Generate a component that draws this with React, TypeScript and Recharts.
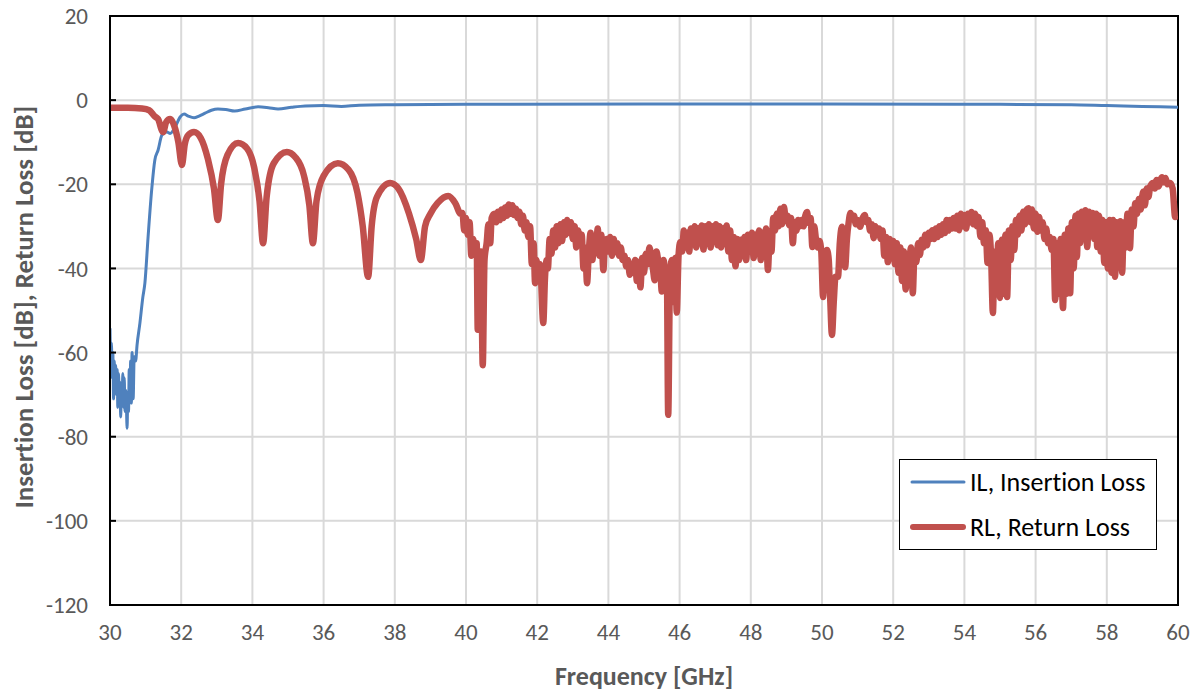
import { CartesianGrid, Line, LineChart, ReferenceArea, XAxis, YAxis } from 'recharts';

// [frequency GHz, dB]
const IL: [number, number][] = [
  [30.0, -54.2], [30.02, -62], [30.04, -57.7], [30.06, -66], [30.08, -60], [30.1, -71],
  [30.12, -62], [30.14, -68], [30.16, -63], [30.18, -70], [30.2, -64], [30.22, -73],
  [30.24, -65], [30.26, -72], [30.28, -67], [30.3, -75.3], [30.32, -68], [30.34, -72],
  [30.36, -65], [30.38, -73], [30.4, -66], [30.42, -74], [30.45, -69], [30.48, -78],
  [30.5, -70], [30.52, -74], [30.54, -64], [30.56, -72], [30.58, -62], [30.6, -72],
  [30.62, -60], [30.65, -71], [30.68, -61], [30.72, -62], [30.76, -58.2], [30.84, -53],
  [30.92, -47], [30.98, -43.5], [31.07, -32.5], [31.17, -21.4], [31.26, -14.2], [31.35, -11.9],
  [31.46, -8.3], [31.6, -7.6], [31.69, -7.9], [31.83, -6.4], [31.97, -4], [32.08, -3.3],
  [32.2, -3.8], [32.36, -4.2], [32.5, -3.8], [32.67, -3.1], [32.85, -2.4], [33.03, -2.1],
  [33.25, -2.2], [33.5, -2.6], [33.8, -2.1], [34.16, -1.6], [34.45, -1.8], [34.72, -2.1],
  [35.1, -1.7], [35.48, -1.4], [36, -1.3], [36.5, -1.5], [37, -1.2], [38, -1.1],
  [40, -1.0], [45, -0.9], [50, -0.9], [55, -1.0], [57, -1.1], [58, -1.3], [59, -1.5], [60, -1.7],
];

const RL: [number, number][] = [
  [30.0, -1.8], [30.5, -1.8], [30.9, -2.0], [31.1, -2.4], [31.25, -3.8], [31.35, -4.5],
  [31.49, -7.6], [31.58, -5.2], [31.69, -4.5], [31.8, -6], [31.92, -10], [32.02, -15.4],
  [32.1, -10.5], [32.2, -8.3], [32.36, -7.6], [32.55, -9], [32.75, -14], [32.92, -21],
  [33.03, -28.5], [33.12, -20], [33.3, -13], [33.6, -10.2], [33.85, -11.5], [34.05, -16],
  [34.2, -24], [34.3, -34], [34.4, -23], [34.6, -15], [34.97, -12.3], [35.2, -13.5],
  [35.45, -18], [35.6, -25], [35.7, -34], [35.8, -24], [36.0, -18], [36.4, -15],
  [36.7, -16.5], [36.95, -22], [37.1, -30], [37.25, -42], [37.35, -30], [37.5, -23],
  [37.87, -19.7], [38.1, -21], [38.4, -27], [38.6, -33], [38.73, -38], [38.85, -30],
  [39.0, -27], [39.2, -24.5], [39.5, -22.8], [39.7, -24.5], [39.85, -27],
  [39.9, -26.8], [39.95, -31], [40.0, -28], [40.05, -32], [40.1, -29], [40.15, -37],
  [40.2, -33], [40.25, -36], [40.3, -34], [40.33, -54.6], [40.38, -40], [40.42, -36],
  [40.47, -63], [40.52, -38], [40.58, -34], [40.63, -29.5], [40.68, -34], [40.72, -28],
  [40.8, -27], [40.85, -29], [40.9, -26.5], [40.95, -28.5], [41.0, -26], [41.05, -28],
  [41.1, -25.5], [41.15, -27.5], [41.2, -24.8], [41.25, -27], [41.3, -25], [41.35, -27.3],
  [41.4, -25.8], [41.45, -28], [41.5, -26.5], [41.55, -29.5], [41.6, -27.5], [41.65, -31],
  [41.7, -29], [41.75, -32.5], [41.8, -30], [41.85, -39], [41.9, -34], [41.94, -43.5],
  [41.98, -38], [42.03, -42], [42.08, -39], [42.17, -53], [42.22, -42], [42.27, -38],
  [42.3, -40], [42.35, -33], [42.4, -36.5], [42.45, -31], [42.5, -35], [42.55, -30],
  [42.6, -34], [42.65, -29.5], [42.7, -33.5], [42.75, -29], [42.8, -32], [42.84, -28.5],
  [42.9, -31.5], [42.95, -29], [43.0, -33], [43.05, -30], [43.1, -35], [43.15, -31],
  [43.2, -34], [43.25, -32], [43.3, -40], [43.35, -35], [43.4, -43.5], [43.45, -36],
  [43.5, -31.5], [43.55, -38], [43.6, -33], [43.65, -36], [43.7, -30.5], [43.75, -37],
  [43.8, -32], [43.86, -40.4], [43.9, -34], [43.95, -33], [44.0, -36], [44.05, -32.5],
  [44.1, -37], [44.15, -33], [44.2, -35.5], [44.25, -34], [44.3, -37], [44.35, -35],
  [44.4, -38], [44.45, -37], [44.5, -39.5], [44.55, -38], [44.6, -41.5], [44.65, -39],
  [44.7, -41], [44.75, -38], [44.8, -43], [44.85, -38.5], [44.9, -44.5], [44.95, -37.5],
  [45.0, -41], [45.05, -36.5], [45.1, -39], [45.15, -35], [45.2, -37], [45.25, -40],
  [45.3, -42.8], [45.35, -36], [45.4, -38], [45.45, -39], [45.5, -45.5], [45.55, -38],
  [45.6, -41], [45.64, -40], [45.68, -74.8], [45.73, -42], [45.78, -38], [45.83, -48],
  [45.88, -37.5], [45.92, -50.5], [45.97, -37], [46.02, -33.7], [46.07, -36], [46.12, -31],
  [46.17, -35], [46.22, -31.5], [46.27, -36], [46.32, -30.5], [46.37, -34], [46.42, -30],
  [46.47, -35], [46.52, -30.5], [46.57, -33], [46.62, -29.8], [46.67, -35.5], [46.72, -30],
  [46.77, -34], [46.82, -29.5], [46.87, -35], [46.92, -30], [46.97, -33], [47.02, -29.5],
  [47.07, -34.5], [47.12, -30], [47.17, -35], [47.22, -30.5], [47.27, -33], [47.32, -29.8],
  [47.37, -36], [47.42, -31], [47.47, -38], [47.52, -32.5], [47.57, -39.5], [47.62, -33],
  [47.67, -38], [47.72, -33.2], [47.77, -37], [47.82, -32.5], [47.87, -38], [47.92, -32],
  [47.98, -36], [48.03, -31.5], [48.08, -37.5], [48.13, -32], [48.18, -35], [48.23, -31],
  [48.28, -38], [48.33, -31.5], [48.38, -36], [48.43, -30.5], [48.48, -40.4], [48.53, -33],
  [48.58, -36], [48.63, -28], [48.68, -31], [48.73, -27], [48.78, -30], [48.83, -25.8],
  [48.88, -29.5], [48.93, -25.4], [48.98, -28], [49.03, -27.5], [49.08, -29.7], [49.13, -28],
  [49.18, -34], [49.23, -29], [49.28, -31], [49.33, -28.5], [49.38, -30], [49.43, -28.5],
  [49.48, -30], [49.53, -27.5], [49.58, -26.6], [49.63, -29.2], [49.68, -28], [49.73, -34.9],
  [49.78, -30], [49.83, -33], [49.88, -35], [49.93, -33.5], [49.98, -36], [50.03, -46.8],
  [50.08, -38], [50.14, -35.6], [50.19, -38], [50.23, -47], [50.28, -55.8], [50.33, -48],
  [50.38, -42], [50.45, -42], [50.5, -34], [50.56, -30.1], [50.61, -33], [50.65, -39.7],
  [50.7, -33], [50.75, -29], [50.8, -26.8], [50.85, -28], [50.9, -27.5], [50.95, -29.5],
  [51.0, -28.5], [51.07, -30.1], [51.12, -28.5], [51.2, -27.3], [51.25, -29], [51.3, -28.5],
  [51.35, -31], [51.4, -29.5], [51.45, -32.8], [51.5, -30], [51.55, -31.5], [51.6, -30.5],
  [51.65, -33], [51.7, -31], [51.75, -37], [51.8, -32.5], [51.85, -38.5], [51.9, -33],
  [51.95, -35], [52.0, -33.5], [52.05, -39], [52.1, -34], [52.15, -41], [52.2, -35],
  [52.25, -43], [52.3, -36], [52.35, -45], [52.4, -37], [52.45, -38], [52.5, -35],
  [52.55, -45.9], [52.6, -36], [52.65, -38.5], [52.7, -34], [52.75, -36.8], [52.8, -33.2],
  [52.85, -35], [52.9, -32], [52.95, -34.5], [53.0, -31.5], [53.05, -33], [53.1, -30.9],
  [53.15, -33], [53.2, -30.5], [53.25, -32.5], [53.3, -30], [53.35, -32], [53.4, -29.5],
  [53.45, -31.6], [53.5, -28.5], [53.55, -31], [53.6, -28.5], [53.65, -30.5], [53.7, -28],
  [53.75, -30.5], [53.8, -27.5], [53.85, -30.9], [53.9, -27], [53.95, -30], [54.0, -27.3],
  [54.05, -30.5], [54.1, -27], [54.16, -29], [54.2, -26.6], [54.25, -29.5], [54.3, -27],
  [54.35, -30], [54.4, -27.8], [54.45, -32.5], [54.5, -29], [54.55, -34], [54.6, -30.9],
  [54.65, -38.7], [54.7, -32], [54.75, -37], [54.8, -50.6], [54.85, -36], [54.9, -45],
  [54.95, -34], [55.0, -47], [55.05, -33.2], [55.1, -46], [55.15, -32], [55.2, -46.8],
  [55.25, -31], [55.3, -38], [55.35, -30], [55.4, -35.6], [55.45, -28.5], [55.5, -32],
  [55.55, -27.5], [55.6, -31], [55.65, -26.5], [55.7, -29.5], [55.75, -26], [55.8, -25.7],
  [55.85, -29], [55.9, -26], [55.95, -30.5], [56.0, -27], [56.05, -31.3], [56.1, -27.8],
  [56.15, -31], [56.2, -29], [56.25, -33], [56.3, -30.5], [56.35, -34], [56.4, -32.5],
  [56.45, -35.6], [56.5, -33], [56.55, -47.5], [56.6, -34], [56.65, -46], [56.7, -33],
  [56.77, -49.4], [56.82, -32], [56.87, -46], [56.92, -30.5], [56.97, -45.9], [57.02, -29],
  [57.07, -40], [57.12, -27.5], [57.16, -37.3], [57.2, -27], [57.25, -34], [57.3, -26.5],
  [57.35, -33], [57.4, -26.2], [57.45, -34.9], [57.5, -26.5], [57.55, -32], [57.6, -26.8],
  [57.65, -33], [57.7, -27], [57.73, -34.9], [57.78, -27.5], [57.83, -36], [57.88, -28.5],
  [57.93, -38.7], [57.98, -29], [58.03, -40], [58.08, -28.5], [58.13, -41], [58.18, -28.5],
  [58.23, -42], [58.28, -29], [58.33, -39], [58.38, -28.8], [58.43, -41], [58.48, -29],
  [58.53, -35], [58.58, -27], [58.65, -35.2], [58.7, -26], [58.75, -30], [58.8, -24.5],
  [58.85, -27], [58.9, -23.5], [58.95, -26], [59.02, -21.8], [59.07, -25], [59.12, -21],
  [59.17, -23], [59.22, -20.5], [59.3, -19.7], [59.35, -21], [59.4, -19], [59.45, -20.5],
  [59.55, -18.3], [59.6, -19.5], [59.65, -18.5], [59.7, -20], [59.78, -19.7], [59.85, -21],
  [59.92, -27.8], [60.0, -27.5],
];

const X_TICKS = [30, 32, 34, 36, 38, 40, 42, 44, 46, 48, 50, 52, 54, 56, 58, 60];
const Y_TICKS = [-120, -100, -80, -60, -40, -20, 0, 20];

const FONT = "Carlito, 'Open Sans', sans-serif";
const TEXT = '#595959';
const BLUE = '#4f81bd';
const RED = '#c0504d';
const NO_LIG = { fontVariantLigatures: 'none' as const };

const ilData = IL.map(([f, v]) => ({ f, v }));
const rlData = RL.map(([f, v]) => ({ f, v }));

export default function App() {
  return (
    <div style={{ position: 'fixed', left: 0, top: 0, width: 1197, height: 692, background: '#fff', fontFamily: FONT }}>
      <LineChart width={1197} height={692} margin={{ top: 16, right: 19, bottom: 57, left: 50 }}>
        <CartesianGrid stroke="#d9d9d9" strokeWidth={2} />
        <XAxis
          type="number"
          dataKey="f"
          domain={[30, 60]}
          ticks={X_TICKS}
          allowDataOverflow
          axisLine={{ stroke: '#000', strokeWidth: 2 }}
          tickLine={false}
          tickSize={0}
          tickMargin={19}
          tick={{ fill: TEXT, fontSize: 23, fontFamily: FONT }}
          label={{
            content: () => (
              <text x={644} y={685} textAnchor="middle" fill={TEXT} fontSize={26} fontWeight="bold" fontFamily={FONT} style={NO_LIG}>
                Frequency [GHz]
              </text>
            ),
          }}
        />
        <YAxis
          type="number"
          domain={[-120, 20]}
          ticks={Y_TICKS}
          allowDataOverflow
          width={60}
          axisLine={{ stroke: '#000', strokeWidth: 2 }}
          tickLine={{ stroke: '#000', strokeWidth: 2 }}
          tickSize={-6}
          tickMargin={28}
          tick={{ fill: TEXT, fontSize: 23, fontFamily: FONT }}
          label={{
            content: () => (
              <text
                x={23}
                y={307}
                transform="rotate(-90 23 307)"
                textAnchor="middle"
                dominantBaseline="central"
                fill={TEXT}
                fontSize={27}
                fontWeight="bold"
                fontFamily={FONT}
                style={NO_LIG}
              >
                Insertion Loss [dB], Return Loss [dB]
              </text>
            ),
          }}
        />
        <ReferenceArea x1={30} x2={60} y1={-120} y2={20} fill="none" stroke="#000" strokeWidth={2} ifOverflow="visible" />
        <Line
          data={ilData}
          dataKey="v"
          type="monotone"
          stroke={BLUE}
          strokeWidth={3}
          strokeLinejoin="round"
          dot={false}
          isAnimationActive={false}
        />
        <Line
          data={rlData}
          dataKey="v"
          type="monotone"
          stroke={RED}
          strokeWidth={6.5}
          strokeLinejoin="round"
          dot={false}
          isAnimationActive={false}
        />
      </LineChart>
      <div
        style={{
          position: 'absolute',
          left: 899,
          top: 459,
          width: 256,
          height: 89,
          border: '1.5px solid #000',
          background: '#fff',
          color: '#000',
          fontSize: 26,
          fontFamily: FONT,
          ...NO_LIG,
        }}
      >
        <div style={{ position: 'absolute', left: 10, top: 6, display: 'flex', alignItems: 'center', whiteSpace: 'nowrap' }}>
          <svg width={56} height={10} style={{ marginRight: 4 }}>
            <line x1={2} y1={5} x2={54} y2={5} stroke={BLUE} strokeWidth={3} strokeLinecap="round" />
          </svg>
          IL, Insertion Loss
        </div>
        <div style={{ position: 'absolute', left: 10, top: 51, display: 'flex', alignItems: 'center', whiteSpace: 'nowrap' }}>
          <svg width={56} height={10} style={{ marginRight: 4 }}>
            <line x1={3} y1={5} x2={53} y2={5} stroke={RED} strokeWidth={6} strokeLinecap="round" />
          </svg>
          RL, Return Loss
        </div>
      </div>
    </div>
  );
}
